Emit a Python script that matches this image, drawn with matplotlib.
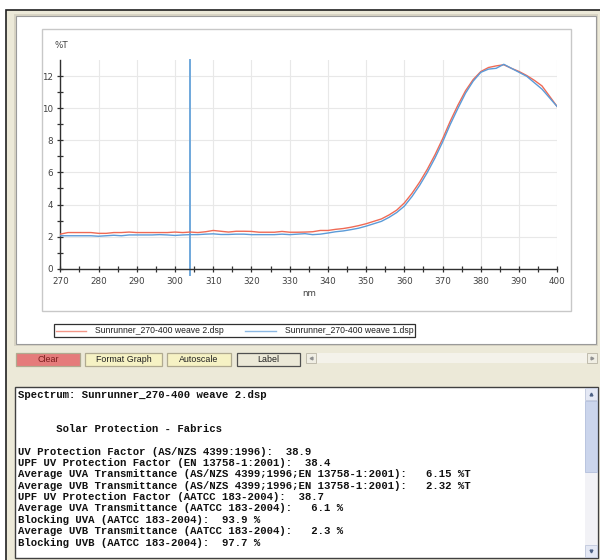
import numpy as np
import matplotlib
matplotlib.use("Agg")
import matplotlib.pyplot as plt
from matplotlib.patches import Rectangle

# spectrum data (nm, %T)
wavelength = list(range(270, 401, 2))

weave2 = [2.15, 2.25, 2.25, 2.25, 2.25, 2.20, 2.20, 2.25, 2.25, 2.28,
          2.25, 2.25, 2.25, 2.25, 2.25, 2.28, 2.25, 2.28, 2.25, 2.30,
          2.38, 2.33, 2.28, 2.33, 2.33, 2.32, 2.27, 2.27, 2.27, 2.32,
          2.27, 2.27, 2.28, 2.30, 2.38, 2.38, 2.45, 2.50, 2.58, 2.68,
          2.80, 2.95, 3.10, 3.35, 3.65, 4.10, 4.70, 5.40, 6.20, 7.10,
          8.10, 9.20, 10.2, 11.1, 11.8, 12.3, 12.55, 12.65, 12.72, 12.5,
          12.3, 12.05, 11.75, 11.4, 10.75, 10.1]

weave1 = [2.05, 2.05, 2.05, 2.05, 2.05, 2.02, 2.05, 2.08, 2.05, 2.10,
          2.10, 2.10, 2.10, 2.12, 2.10, 2.07, 2.10, 2.12, 2.12, 2.15,
          2.17, 2.13, 2.13, 2.15, 2.15, 2.12, 2.12, 2.12, 2.12, 2.15,
          2.12, 2.15, 2.18, 2.12, 2.15, 2.22, 2.30, 2.35, 2.43, 2.52,
          2.65, 2.80, 2.95, 3.20, 3.50, 3.90, 4.50, 5.20, 6.00, 6.90,
          7.90, 9.00, 10.0, 10.95, 11.7, 12.25, 12.45, 12.5, 12.75, 12.5,
          12.25, 12.0, 11.6, 11.2, 10.65, 10.1]

cursor_nm = 304

legend_labels = ["Sunrunner_270-400 weave 2.dsp", "Sunrunner_270-400 weave 1.dsp"]
buttons = ["Clear", "Format Graph", "Autoscale", "Label"]

report = [
    "Spectrum: Sunrunner_270-400 weave 2.dsp",
    "",
    "",
    "      Solar Protection - Fabrics",
    "",
    "UV Protection Factor (AS/NZS 4399:1996):  38.9",
    "UPF UV Protection Factor (EN 13758-1:2001):  38.4",
    "Average UVA Transmittance (AS/NZS 4399;1996;EN 13758-1:2001):   6.15 %T",
    "Average UVB Transmittance (AS/NZS 4399;1996;EN 13758-1:2001):   2.32 %T",
    "UPF UV Protection Factor (AATCC 183-2004):  38.7",
    "Average UVA Transmittance (AATCC 183-2004):   6.1 %",
    "Blocking UVA (AATCC 183-2004):  93.9 %",
    "Average UVB Transmittance (AATCC 183-2004):   2.3 %",
    "Blocking UVB (AATCC 183-2004):  97.7 %",
]

RED = "#ef6a55"
BLUE = "#5b9bd8"
BEIGE = "#ece9d8"

fig = plt.figure(figsize=(6, 5.6), dpi=100)
fig.patch.set_facecolor("white")

# window chrome drawn in pixel coords
bg = fig.add_axes([0, 0, 1, 1])
bg.set_xlim(0, 600)
bg.set_ylim(560, 0)
bg.axis("off")


def box(x0, y0, x1, y1, fc, ec="none", lw=0.8, z=1):
    bg.add_patch(Rectangle((x0, y0), x1 - x0, y1 - y0, facecolor=fc,
                           edgecolor=ec, linewidth=lw, zorder=z))


box(6, 10, 601, 561, BEIGE, "#202020", 1.2)
box(14, 14, 598, 346, "#d8d4c4", "none")
box(16, 16, 596, 344, "white", "#9a9a9a", 0.8)
box(42, 29, 571, 311, "white", "#c8c8c8", 1.0)

# legend
box(54, 324, 415, 337, "white", "#303030", 0.9)
bg.plot([56, 86], [330.5, 330.5], color=RED, lw=1, alpha=0.7, zorder=3)
bg.plot([245, 276], [330.5, 330.5], color=BLUE, lw=1, alpha=0.7, zorder=3)
bg.text(95, 330.8, legend_labels[0], fontsize=6.2, family="Liberation Sans",
        va="center", color="#202020")
bg.text(285, 330.8, legend_labels[1], fontsize=6.2, family="Liberation Sans",
        va="center", color="#202020")

# buttons
btn_x = [(16, 80), (85, 162), (167, 231), (237, 300)]
btn_fc = ["#e57b7b", "#f6f2c4", "#f6f2c4", BEIGE]
btn_tc = ["#7a1c1c", "#202020", "#202020", "#202020"]
for (x0, x1), lab, fc, tc in zip(btn_x, buttons, btn_fc, btn_tc):
    ec = "#505050" if lab == "Label" else "#b0aa90"
    box(x0, 353, x1, 366, fc, ec, 0.9, z=2)
    bg.text((x0 + x1) / 2, 359.8, lab, fontsize=6.4, family="Liberation Sans",
            ha="center", va="center", color=tc, zorder=3)

# horizontal scrollbar
box(306, 353, 597, 363, "#f4f2ea", "none", z=2)
box(306, 353, 316, 363, "#f0eee4", "#b8b4a4", 0.6, z=3)
box(587, 353, 597, 363, "#f0eee4", "#b8b4a4", 0.6, z=3)
bg.plot([311], [358], marker="<", ms=2, color="#909090", zorder=4)
bg.plot([592], [358], marker=">", ms=2, color="#909090", zorder=4)

# report text box
box(15, 387, 598, 558, "white", "#404040", 1.0)
box(585, 388, 597, 557, "#f2f2f6", "none", z=2)
box(585, 401, 597, 472, "#cbd5ec", "#b4c0dc", 0.6, z=3)
box(585, 388, 597, 400, "#e4e8f4", "#c0c8dc", 0.6, z=3)
box(585, 545, 597, 557, "#e4e8f4", "#c0c8dc", 0.6, z=3)
bg.plot([591], [394], marker="^", ms=2, color="#4d6185", zorder=4)
bg.plot([591], [551], marker="v", ms=2, color="#4d6185", zorder=4)

line_y = [395, 406.3, 417.6, 429, 440.3] + [451.7 + 11.35 * i for i in range(9)]
for y, s in zip(line_y, report):
    bg.text(18, y, s, fontsize=7.7, family="Liberation Mono", weight="bold",
            va="center", color="#111111", zorder=3)

# spectrum chart
ax = fig.add_axes([60.3 / 600, 1 - 268.6 / 560, 497 / 600, 208.3 / 560])
ax.set_zorder(5)
ax.patch.set_visible(False)
ax.plot(wavelength, weave2, color=RED, lw=1.0, zorder=3)
ax.plot(wavelength, weave1, color=BLUE, lw=1.0, zorder=3)
ax.axvline(cursor_nm, ymin=-0.03, ymax=1, color="#6fa8dc", lw=1.4,
           clip_on=False, zorder=2)

ax.set_xlim(270, 400)
ax.set_ylim(0, 13)
ax.set_xticks(np.arange(270, 401, 10))
ax.set_xticks(np.arange(275, 400, 10), minor=True)
ax.set_yticks(np.arange(0, 13, 2))
ax.set_yticks(np.arange(1, 13, 2), minor=True)
ax.grid(True, which="major", color="#e8e8e8", lw=0.8, zorder=0)
for side in ["top", "right"]:
    ax.spines[side].set_visible(False)
for side in ["left", "bottom"]:
    ax.spines[side].set_color("#303030")
    ax.spines[side].set_linewidth(1.0)
ax.tick_params(which="both", direction="inout", length=4, width=0.9,
               color="#303030", labelsize=6.3, labelcolor="#404040", pad=3)
ax.tick_params(axis="x", pad=4)
ax.set_axisbelow(True)

bg.text(61, 46, "%T", fontsize=6.3, color="#404040", ha="center", va="center")
bg.text(308.8, 293, "nm", fontsize=6.3, color="#404040", ha="center", va="center")

fig.savefig("out.png", dpi=100)
